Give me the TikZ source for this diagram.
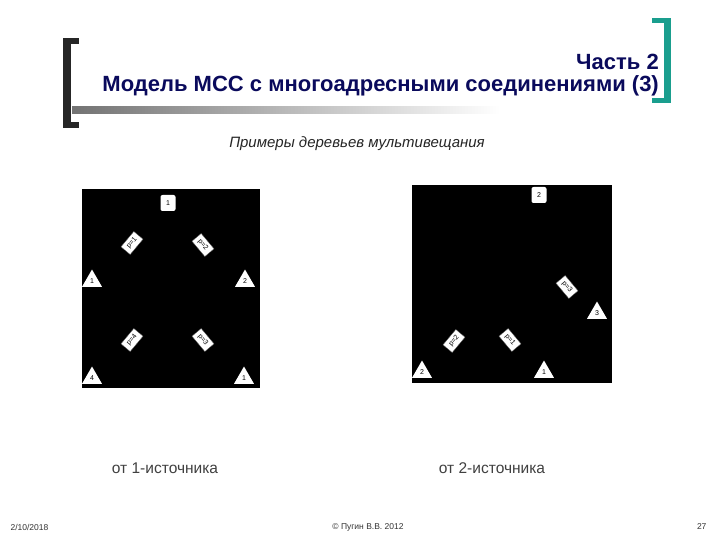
\documentclass[tikz,border=0pt]{standalone}
\usepackage{fontspec}
\setmainfont{Liberation Sans}
\usetikzlibrary{shapes.geometric}
\definecolor{navy}{HTML}{0A0A5C}
\definecolor{tealb}{HTML}{1A9E8E}
\begin{document}
\begin{tikzpicture}[x=1pt,y=-1pt,
  tri/.style={regular polygon, regular polygon sides=3, minimum size=23pt, fill=white, inner sep=0pt, font=\fontsize{7}{7}\selectfont},
  srcbox/.style={rectangle, rounded corners=2pt, fill=white, minimum width=15pt, minimum height=16pt, inner sep=0pt, font=\fontsize{7}{7}\selectfont},
  pbox/.style={rectangle, fill=white, draw=black!70, line width=0.3pt, minimum width=20pt, minimum height=12pt, inner sep=0.5pt, font=\fontsize{7}{7}\selectfont},
  caption/.style={font=\fontsize{15.5}{18}\selectfont, text=black!75},
  foot/.style={font=\fontsize{8.5}{10}\selectfont, text=black!80}]
\useasboundingbox (0,0) rectangle (720,540);
\fill[white] (0,0) rectangle (720,540);
% brackets
\fill[black!85] (63,38) rectangle (71,128);
\fill[black!85] (63,38) rectangle (79,44);
\fill[black!85] (63,122) rectangle (79,128);
\fill[tealb] (664,18) rectangle (671,103);
\fill[tealb] (652,18) rectangle (671,23);
\fill[tealb] (652,98) rectangle (671,103);
% gradient bar
\shade[left color=black!55, right color=white] (72,107) rectangle (500,114);
% title
\node[anchor=east, inner sep=0pt, font=\bfseries\fontsize{22}{26}\selectfont, text=navy] (t1) at (659,62) {Часть 2};
\node[anchor=east, inner sep=0pt, font=\bfseries\fontsize{22}{26}\selectfont, text=navy] (t2) at (659,86) {Модель МСС с многоадресными соединениями (3)};
\node[inner sep=0pt, font=\itshape\fontsize{15}{17}\selectfont, text=black!85] (sub) at (357,144) {Примеры деревьев мультивещания};
% left panel
\fill[black] (82,189) rectangle (260,388);
\node[srcbox] (ls1) at (168,203) {1};
\node[pbox, rotate=50] (lp1) at (132,243) {p=1};
\node[pbox, rotate=-50] (lp2) at (203,245) {p=2};
\node[tri] (lr1) at (92,281) {1};
\node[tri] (lr2) at (245,281) {2};
\node[pbox, rotate=50] (lp4) at (132,340) {p=4};
\node[pbox, rotate=-50] (lp3) at (203,340) {p=3};
\node[tri] (lr4) at (92,378) {4};
\node[tri] (lr3) at (244,378) {1};
% right panel
\fill[black] (412,185) rectangle (612,383);
\node[srcbox] (rs2) at (539,195) {2};
\node[pbox, rotate=-50] (rp3) at (567,287) {p=3};
\node[tri] (rr3) at (597,313) {3};
\node[pbox, rotate=50] (rp2) at (454,341) {p=2};
\node[pbox, rotate=-50] (rp1) at (510,340) {p=1};
\node[tri] (rr2) at (422,372) {2};
\node[tri] (rr1) at (544,372) {1};
% captions
\node[caption] (c1) at (165,468) {от 1-источника};
\node[caption] (c2) at (492,468) {от 2-источника};
% footer
\node[foot, anchor=west] (f1) at (7,527) {2/10/2018};
\node[foot] (f2) at (368,527) {© Пугин В.В. 2012};
\node[foot, anchor=east] (f3) at (710,527) {27};
\end{tikzpicture}
\end{document}
